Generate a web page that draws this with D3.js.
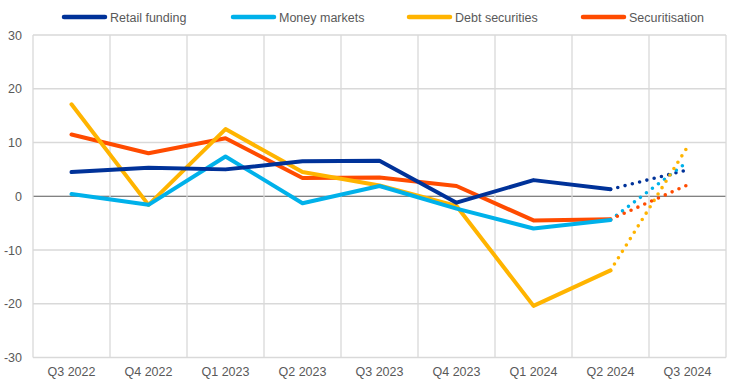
<!DOCTYPE html>
<html>
<head>
<meta charset="utf-8">
<script src="https://cdn.jsdelivr.net/npm/d3@7"></script>
<style>
  body { margin: 0; background: #fff; }
  svg { display: block; font-family: "Liberation Sans", Arial, sans-serif; }
</style>
</head>
<body>
<svg id="chart"></svg>
<script>
// quarters on the x axis
const quarters = ["Q3 2022", "Q4 2022", "Q1 2023", "Q2 2023", "Q3 2023", "Q4 2023", "Q1 2024", "Q2 2024", "Q3 2024"];
const yTicks = [-30, -20, -10, 0, 10, 20, 30];

// series values, last point is the expectation (dotted)
const retailFunding = [4.5, 5.3, 5.0, 6.5, 6.6, -1.2, 3.0, 1.3, 4.9];
const moneyMarkets = [0.4, -1.6, 7.4, -1.3, 1.9, -2.3, -6.0, -4.4, 6.4];
const debtSecurities = [17.1, -1.6, 12.5, 4.5, 2.0, -1.8, -20.4, -13.8, 9.2];
const securitisation = [11.5, 8.0, 10.8, 3.4, 3.5, 1.9, -4.5, -4.3, 2.1];

const seriesNames = ["Retail funding", "Money markets", "Debt securities", "Securitisation"];
const seriesColors = ["#003299", "#00b1ea", "#ffb400", "#ff4b00"];

const w = 744, h = 386;
const margin = {top: 35, right: 18, bottom: 28.5, left: 33};

const svg = d3.select("#chart")
    .attr("width", w)
    .attr("height", h);

const x = d3.scaleBand()
    .domain(quarters)
    .range([margin.left, w - margin.right]);

const y = d3.scaleLinear()
    .domain([-30, 30])
    .range([h - margin.bottom, margin.top]);

// horizontal grid
svg.append("g")
    .selectAll("line")
    .data(yTicks)
    .enter()
    .append("line")
    .attr("x1", margin.left)
    .attr("x2", w - margin.right)
    .attr("y1", d => y(d))
    .attr("y2", d => y(d))
    .attr("stroke", d => d === 0 ? "#595959" : "#d9d9d9")
    .attr("stroke-width", d => d === 0 ? 1.2 : 1.3);

// vertical grid at band edges
const edges = quarters.map(q => x(q)).concat([w - margin.right]);
svg.append("g")
    .selectAll("line")
    .data(edges)
    .enter()
    .append("line")
    .attr("x1", d => d)
    .attr("x2", d => d)
    .attr("y1", y(30))
    .attr("y2", y(-30))
    .attr("stroke", "#d9d9d9")
    .attr("stroke-width", 1.3);

// y axis labels
svg.append("g")
    .selectAll("text")
    .data(yTicks)
    .enter()
    .append("text")
    .text(d => d)
    .attr("x", 22)
    .attr("y", d => y(d) + 4.5)
    .attr("text-anchor", "end")
    .attr("font-size", "12.5px")
    .attr("fill", "#595959");

// x axis labels
svg.append("g")
    .selectAll("text")
    .data(quarters)
    .enter()
    .append("text")
    .text(d => d)
    .attr("x", d => x(d) + x.bandwidth() / 2)
    .attr("y", 376)
    .attr("text-anchor", "middle")
    .attr("font-size", "12.5px")
    .attr("fill", "#595959");

const allSeries = [retailFunding, moneyMarkets, debtSecurities, securitisation];
const cx = i => x(quarters[i]) + x.bandwidth() / 2;

const lineFun = d3.line()
    .x(d => cx(d.i))
    .y(d => y(d.v));

const n = quarters.length;

// dotted expectation segments first, solid lines on top, drawn in reverse so retail is on top
allSeries.forEach((vals, k) => {
    const pts = vals.map((v, i) => ({i, v}));
    svg.append("path")
        .attr("d", lineFun(pts.slice(n - 2)))
        .attr("stroke", seriesColors[k])
        .attr("stroke-width", 3.6)
        .attr("stroke-linecap", "round")
        .attr("stroke-dasharray", "0 7.5")
        .attr("fill", "none");
});

[3, 2, 1, 0].forEach(k => {
    const pts = allSeries[k].map((v, i) => ({i, v}));
    svg.append("path")
        .attr("d", lineFun(pts.slice(0, n - 1)))
        .attr("stroke", seriesColors[k])
        .attr("stroke-width", 4)
        .attr("stroke-linejoin", "round")
        .attr("stroke-linecap", "round")
        .attr("fill", "none");
});

// legend
const legendX = [64, 233, 409, 583];
const legend = svg.append("g");
seriesNames.forEach((name, k) => {
    legend.append("line")
        .attr("x1", legendX[k])
        .attr("x2", legendX[k] + 41)
        .attr("y1", 17)
        .attr("y2", 17)
        .attr("stroke", seriesColors[k])
        .attr("stroke-width", 4.5)
        .attr("stroke-linecap", "round");
    legend.append("text")
        .text(name)
        .attr("x", legendX[k] + 46)
        .attr("y", 21.5)
        .attr("font-size", "12.5px")
        .attr("fill", "#595959");
});
</script>
</body>
</html>
